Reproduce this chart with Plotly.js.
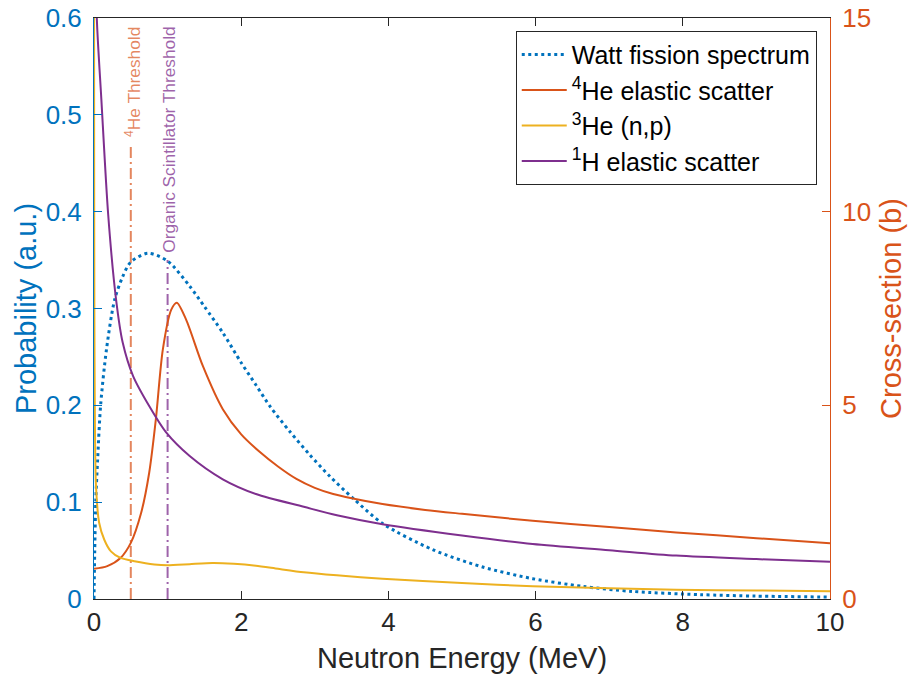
<!DOCTYPE html>
<html>
<head>
<meta charset="utf-8">
<script src="https://cdn.plot.ly/plotly-3.0.1.min.js"></script>
<style>html,body{margin:0;padding:0;background:#fff;}#chart{width:912px;height:677px;}</style>
</head>
<body>
<div id="chart"></div>
<script>
// ---- Data ----
const energyWatt = [0, 0.01, 0.025, 0.05, 0.09, 0.17, 0.28, 0.39, 0.5, 0.73, 1.0, 1.3, 1.5, 1.75, 2.0, 2.2, 2.4, 2.66, 2.93, 3.2, 3.52, 3.92, 4.6, 5.28, 5.96, 6.64, 7.32, 8.23, 9.0, 10.0];
const probWatt   = [0, 0.05, 0.103, 0.145, 0.2, 0.258, 0.309, 0.333, 0.348, 0.357, 0.349, 0.323, 0.302, 0.275, 0.244, 0.221, 0.198, 0.173, 0.149, 0.127, 0.104, 0.078, 0.051, 0.033, 0.021, 0.013, 0.0078, 0.0045, 0.003, 0.002];

const energyHe4 = [0, 0.18, 0.36, 0.5, 0.64, 0.75, 0.84, 0.935, 1.05, 1.125, 1.25, 1.48, 1.75, 2.0, 2.25, 2.5, 2.75, 3.0, 3.25, 3.5, 3.92, 4.5, 5.0, 5.96, 7.0, 7.91, 9.0, 10.0];
const sigmaHe4  = [0.78, 0.85, 1.06, 1.45, 2.22, 3.26, 4.63, 6.44, 7.47, 7.65, 7.22, 6.01, 4.9, 4.25, 3.8, 3.42, 3.1, 2.87, 2.71, 2.6, 2.45, 2.3, 2.2, 2.02, 1.86, 1.72, 1.57, 1.44];

const energyHe3 = [0.001, 0.002, 0.005, 0.01, 0.025, 0.07, 0.14, 0.23, 0.36, 0.55, 0.82, 1.0, 1.3, 1.61, 1.9, 2.2, 2.5, 2.85, 3.3, 3.92, 5.0, 5.96, 7.0, 7.91, 9.0, 10.0];
const sigmaHe3  = [16.0, 11.5, 7.3, 5.15, 3.0, 1.97, 1.53, 1.23, 1.06, 0.975, 0.89, 0.87, 0.9, 0.93, 0.91, 0.86, 0.78, 0.69, 0.61, 0.52, 0.41, 0.33, 0.28, 0.24, 0.22, 0.2];

const energyH1 = [0.02, 0.038, 0.1, 0.193, 0.3, 0.39, 0.53, 0.75, 0.98, 1.3, 1.75, 2.2, 2.85, 3.3, 3.92, 5.0, 5.96, 7.0, 7.91, 9.0, 10.0];
const sigmaH1  = [17.5, 15.0, 12.9, 9.92, 7.73, 6.62, 5.76, 4.98, 4.3, 3.69, 3.09, 2.71, 2.38, 2.16, 1.93, 1.64, 1.42, 1.26, 1.12, 1.03, 0.96];

const seriesNames = ['Watt fission spectrum', '<sup>4</sup>He elastic scatter', '<sup>3</sup>He (n,p)', '<sup>1</sup>H elastic scatter'];

const thresholdEnergy = [0.5, 1.0];
const thresholdLabels = ['<sup>4</sup>He Threshold', 'Organic Scintillator Threshold'];

const xTicks = [0, 2, 4, 6, 8, 10];
const yLeftTicks = [0, 0.1, 0.2, 0.3, 0.4, 0.5, 0.6];
const yRightTicks = [0, 5, 10, 15];

// ---- Styling ----
const BLUE = '#0072BD', ORANGE = '#D95319', YELLOW = '#EDB120', PURPLE = '#7E2F8E', AX = '#262626';
const FONT = 'Liberation Sans, Arial, Helvetica, sans-serif';
const thrColors = ['rgba(217,83,25,0.7)', 'rgba(126,47,142,0.75)'];
const thrTops = [0.469, 0.350];      // line tops (left-axis units)
const thrDash = '11px,4px,2px,4px';

const traces = [
  {x: energyWatt, y: probWatt, name: seriesNames[0], yaxis: 'y', type: 'scatter', mode: 'lines', legendgroup: 'g0',
   line: {color: BLUE, width: 3, dash: '3px,3.5px', shape: 'spline', smoothing: 0.8}},
  {x: energyHe4, y: sigmaHe4, name: seriesNames[1], yaxis: 'y2', type: 'scatter', mode: 'lines', legendgroup: 'g1',
   line: {color: ORANGE, width: 2, shape: 'spline', smoothing: 0.8}},
  {x: energyHe3, y: sigmaHe3, name: seriesNames[2], yaxis: 'y2', type: 'scatter', mode: 'lines', legendgroup: 'g2',
   line: {color: YELLOW, width: 2, shape: 'spline', smoothing: 0.6}},
  {x: energyH1, y: sigmaH1, name: seriesNames[3], yaxis: 'y2', type: 'scatter', mode: 'lines', legendgroup: 'g3',
   line: {color: PURPLE, width: 2, shape: 'spline', smoothing: 0.8}}
];

const shapes = thresholdEnergy.map((e, i) => ({
  type: 'line', xref: 'x', yref: 'y', x0: e, x1: e, y0: 0, y1: thrTops[i],
  line: {color: thrColors[i], width: 2, dash: thrDash}, layer: 'below'
}));

const annotations = thresholdEnergy.map((e, i) => ({
  x: e, xref: 'x', xshift: 2, y: 0.986, yref: 'paper', yanchor: 'top', xanchor: 'center',
  text: thresholdLabels[i], textangle: -90, showarrow: false, borderpad: 0,
  font: {family: FONT, size: 17.3, color: thrColors[i]}
}));

const layout = {
  width: 912, height: 677,
  margin: {l: 94, r: 82, t: 18, b: 78, pad: 0},
  paper_bgcolor: '#fff', plot_bgcolor: '#fff',
  font: {family: FONT, color: AX},
  showlegend: true,
  legend: {x: 0.982, xanchor: 'right', y: 0.978, yanchor: 'top', traceorder: 'normal',
           bgcolor: '#fff', bordercolor: AX, borderwidth: 1,
           font: {family: FONT, size: 25, color: '#000'}, itemwidth: 45, tracegroupgap: 1},
  xaxis: {range: [0, 10], tickvals: xTicks, ticktext: xTicks.map(String), ticks: 'inside', ticklen: 8,
          tickcolor: AX, linecolor: AX, linewidth: 1, showline: true, mirror: 'ticks', showgrid: false, zeroline: false,
          tickfont: {family: FONT, size: 26, color: AX},
          title: {text: 'Neutron Energy (MeV)', font: {family: FONT, size: 29, color: AX}, standoff: 11}},
  yaxis: {range: [0, 0.6], tickvals: yLeftTicks, ticktext: yLeftTicks.map(String), ticks: 'inside', ticklen: 8,
          tickcolor: BLUE, linecolor: BLUE, linewidth: 1, showline: true, showgrid: false, zeroline: false,
          tickfont: {family: FONT, size: 26, color: BLUE}, ticklabelstandoff: 6,
          title: {text: 'Probability (a.u.)', font: {family: FONT, size: 29, color: BLUE}, standoff: 0}},
  yaxis2: {range: [0, 15], tickvals: yRightTicks, ticktext: yRightTicks.map(String), ticks: 'inside', ticklen: 8,
           overlaying: 'y', side: 'right', anchor: 'x',
           tickcolor: ORANGE, linecolor: ORANGE, linewidth: 1, showline: true, showgrid: false, zeroline: false,
           tickfont: {family: FONT, size: 26, color: ORANGE}, ticklabelstandoff: 6,
           title: {text: 'Cross-section (b)', font: {family: FONT, size: 29, color: ORANGE}, standoff: 10}},
  shapes: shapes,
  annotations: annotations
};

Plotly.newPlot('chart', traces, layout, {displayModeBar: false, staticPlot: true});
</script>
</body>
</html>
